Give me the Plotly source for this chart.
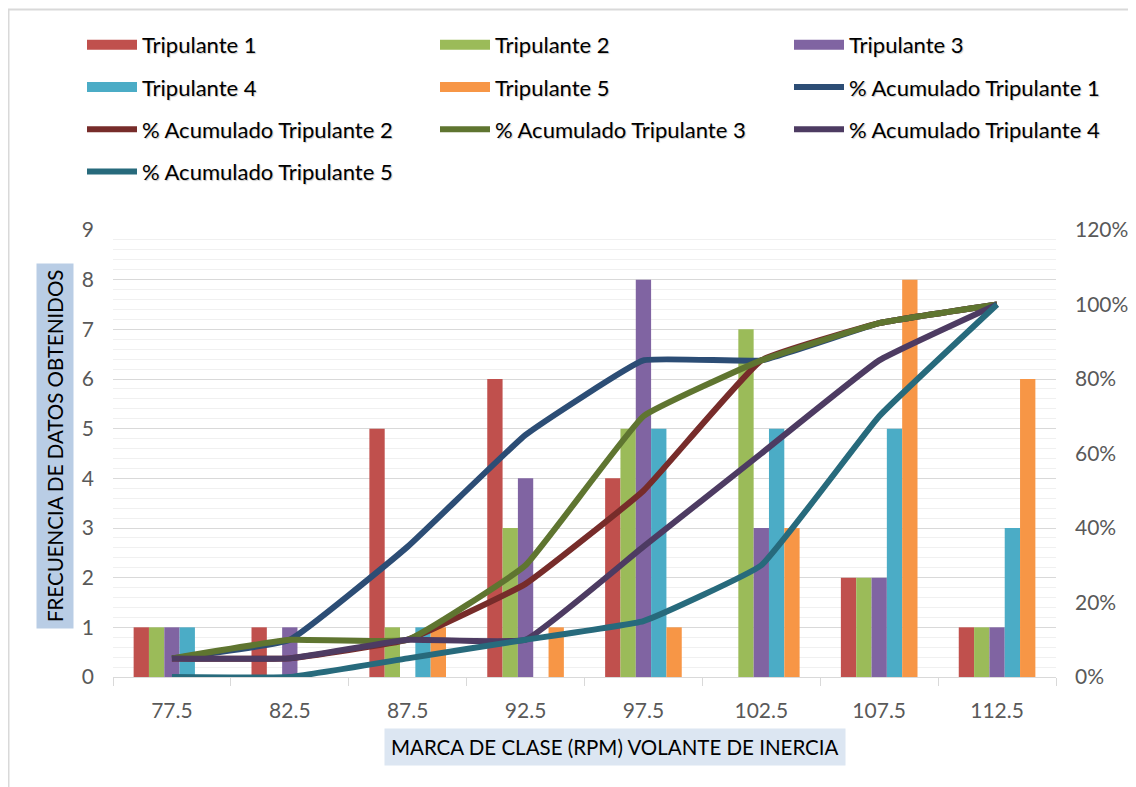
import plotly.graph_objects as go

categories = ["77.5", "82.5", "87.5", "92.5", "97.5", "102.5", "107.5", "112.5"]

trip1 = [1, 1, 5, 6, 4, 0, 2, 1]
trip2 = [1, 0, 1, 3, 5, 7, 2, 1]
trip3 = [1, 1, 0, 4, 8, 3, 2, 1]
trip4 = [1, 0, 1, 0, 5, 5, 5, 3]
trip5 = [0, 0, 1, 1, 1, 3, 8, 6]

acum1 = [0.05, 0.10, 0.35, 0.65, 0.85, 0.85, 0.95, 1.00]
acum2 = [0.05, 0.05, 0.10, 0.25, 0.50, 0.85, 0.95, 1.00]
acum3 = [0.05, 0.10, 0.10, 0.30, 0.70, 0.85, 0.95, 1.00]
acum4 = [0.05, 0.05, 0.10, 0.10, 0.35, 0.60, 0.85, 1.00]
acum5 = [0.00, 0.00, 0.05, 0.10, 0.15, 0.30, 0.70, 1.00]

bar_names = ["Tripulante 1", "Tripulante 2", "Tripulante 3", "Tripulante 4", "Tripulante 5"]
bar_colors = ["#c0504d", "#9bbb59", "#8064a2", "#4bacc6", "#f79646"]
line_names = ["% Acumulado Tripulante " + str(i) for i in range(1, 6)]
line_colors = ["#2c4d75", "#772c2a", "#5f7530", "#4d3b62", "#276a7c"]

# legend column assignment (3 columns, filled row by row as in the original)
legend_cols = ["legend", "legend2", "legend3"]

FONT = "Lato"
W, H = 1128, 779
ML, MR, MT, MB = 105, 80, 222, 110
PW, PH = W - ML - MR, H - MT - MB


def px_x(x):
    return (x - ML) / PW


def px_y(y):
    return (H - MB - y) / PH


fig = go.Figure()

for k, (name, vals, col) in enumerate(zip(bar_names, [trip1, trip2, trip3, trip4, trip5], bar_colors)):
    fig.add_trace(go.Bar(x=categories, y=vals, name=name, marker_color=col,
                         marker_line_width=0, yaxis="y", legendgroup=name, showlegend=False))

for k, (name, vals, col) in enumerate(zip(line_names, [acum1, acum2, acum3, acum4, acum5], line_colors)):
    idx = 5 + k
    fig.add_trace(go.Scatter(x=categories, y=vals, name=name, mode="lines",
                             line=dict(color=col, width=6, shape="spline", smoothing=0.3),
                             yaxis="y2", legendgroup=name,
                             legend=legend_cols[idx % 3], legendrank=idx))

# legend entries for the bar series (wide colour swatches like the original)
for k, (name, col) in enumerate(zip(bar_names, bar_colors)):
    fig.add_trace(go.Scatter(x=[None], y=[None], name=name, mode="lines",
                             line=dict(color=col, width=15), legendgroup=name,
                             legend=legend_cols[k % 3], legendrank=k, showlegend=True,
                             hoverinfo="skip"))

leg_font = dict(family=FONT, size=22, color="#000000", shadow="1px 1px 1px rgba(0,0,0,0.22)")
leg_common = dict(orientation="v", xanchor="left", yanchor="top", y=px_y(16),
                  traceorder="grouped", tracegroupgap=10.6, font=leg_font,
                  bgcolor="rgba(0,0,0,0)", itemwidth=50, itemclick=False, itemdoubleclick=False)

fig.update_layout(
    width=W, height=H,
    paper_bgcolor="white", plot_bgcolor="white",
    margin=dict(l=ML, r=MR, t=MT, b=MB, autoexpand=False),
    barmode="group", bargap=0.35, bargroupgap=0,
    font=dict(family=FONT, size=21, color="#595959"),
    xaxis=dict(type="category", showgrid=False, showline=True, linecolor="#d9d9d9", linewidth=1,
               ticks="outside", tickson="boundaries", ticklen=8, tickcolor="#d9d9d9",
               ticklabelstandoff=15, tickfont=dict(size=21, color="#595959")),
    yaxis=dict(range=[0, 9], dtick=1, showgrid=True, gridcolor="#d9d9d9", gridwidth=1,
               minor=dict(dtick=0.2, showgrid=True, gridcolor="#f0f0f0", gridwidth=1),
               zeroline=False, showline=False, ticks="", ticklabelstandoff=18,
               tickfont=dict(size=21, color="#595959")),
    yaxis2=dict(range=[0, 1.2], dtick=0.2, tickformat=".0%", overlaying="y", side="right",
                showgrid=False, zeroline=False, showline=False, ticks="", ticklabelstandoff=18,
                tickfont=dict(size=21, color="#595959")),
    legend=dict(x=px_x(74), **leg_common),
    legend2=dict(x=px_x(427), **leg_common),
    legend3=dict(x=px_x(781), **leg_common),
    showlegend=True,
)

fig.add_annotation(text="MARCA DE CLASE (RPM) VOLANTE DE INERCIA", xref="paper", yref="paper",
                   x=px_x(607), y=px_y(738.5), xanchor="center", yanchor="middle",
                   showarrow=False, bgcolor="#dce6f2", borderpad=6,
                   font=dict(family=FONT, size=20.5, color="#000000"))
fig.add_annotation(text="FRECUENCIA DE DATOS OBTENIDOS", xref="paper", yref="paper",
                   x=px_x(46.5), y=px_y(438.5), xanchor="center", yanchor="middle",
                   showarrow=False, textangle=-90, bgcolor="#b9cde5",
                   borderpad=6, font=dict(family=FONT, size=20.5, color="#000000"))

fig.add_shape(type="rect", xref="paper", yref="paper", x0=px_x(0.5), x1=1.3, y0=-0.4, y1=px_y(1.5),
              line=dict(color="#d9d9d9", width=2), fillcolor="rgba(0,0,0,0)", layer="below")

fig.write_html("out.html")
